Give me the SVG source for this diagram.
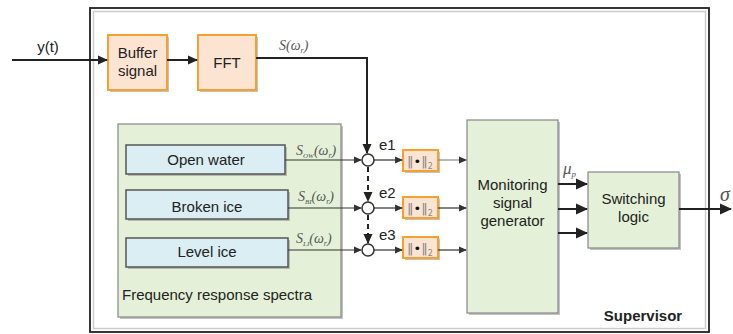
<svg xmlns="http://www.w3.org/2000/svg" width="733" height="334" viewBox="0 0 733 334">
<defs>
<marker id="ah" markerWidth="10" markerHeight="10" refX="9" refY="5" orient="auto" markerUnits="userSpaceOnUse"><path d="M0,0.5 L10,5 L0,9.5 Z" fill="#222"/></marker>
<marker id="ahs" markerWidth="8" markerHeight="8" refX="7" refY="4" orient="auto" markerUnits="userSpaceOnUse"><path d="M0,0.5 L8,4 L0,7.5 Z" fill="#333"/></marker>
<marker id="ahb" markerWidth="12" markerHeight="12" refX="11" refY="6" orient="auto" markerUnits="userSpaceOnUse"><path d="M0,0.5 L12,6 L0,11.5 Z" fill="#222"/></marker>
</defs>
<style>
.sh{fill:#9a9a9a;opacity:0.6}
.org{fill:#fce4d3;stroke:#f7a030;stroke-width:2}
.blu{fill:#daeef3;stroke:#555;stroke-width:1.5}
.grn{fill:#e4f1d8;stroke:#888;stroke-width:1.2}
.t{font-family:"Liberation Sans",Arial,sans-serif;font-size:15px;fill:#222}
.m{font-family:"Liberation Serif","Times New Roman",serif;font-style:italic;fill:#555}
.nm{font-family:"DejaVu Sans",sans-serif;font-size:13px;fill:#888}
.ln{stroke:#333;stroke-width:1.2;fill:none}
.lb{stroke:#222;stroke-width:2;fill:none}
</style>
<rect width="733" height="334" fill="#fff"/>
<g id="supervisor">
<rect x="90" y="8" width="619" height="324" fill="#fff" stroke="#222" stroke-width="1.8"/>
<rect x="93.5" y="11.5" width="612" height="317" fill="none" stroke="#ccc" stroke-width="1.5"/>
<text x="643" y="321" class="t" font-size="16" font-weight="bold" text-anchor="middle">Supervisor</text>
</g>
<g id="buffer">
<rect x="110" y="37" width="59" height="55" class="sh"/>
<rect x="108" y="35" width="59" height="55" class="org"/>
<text x="137.5" y="58" class="t" text-anchor="middle">Buffer</text>
<text x="137.5" y="76" class="t" text-anchor="middle">signal</text>
</g>
<g id="fft">
<rect x="200" y="37" width="58" height="55" class="sh"/>
<rect x="198" y="35" width="58" height="55" class="org"/>
<text x="227" y="68" class="t" text-anchor="middle">FFT</text>
</g>
<g id="spectra">
<rect x="120" y="126" width="223" height="193" class="sh"/>
<rect x="118" y="124" width="223" height="193" class="grn"/>
<text x="122" y="300" class="t" font-size="14.5">Frequency response spectra</text>
</g>
<g id="openwater">
<rect x="128" y="147" width="159" height="29" class="sh"/>
<rect x="126" y="145" width="159" height="29" class="blu"/>
<text x="206" y="165" class="t" text-anchor="middle">Open water</text>
</g>
<g id="brokenice">
<rect x="128" y="192" width="162" height="29" class="sh"/>
<rect x="126" y="190" width="162" height="29" class="blu"/>
<text x="207" y="212" class="t" text-anchor="middle">Broken ice</text>
</g>
<g id="levelice">
<rect x="128" y="240" width="162" height="29" class="sh"/>
<rect x="126" y="238" width="162" height="29" class="blu"/>
<text x="207" y="257" class="t" text-anchor="middle">Level ice</text>
</g>
<g id="sum1"><circle cx="368" cy="160" r="6" fill="#fff" stroke="#333" stroke-width="1.5"/></g>
<g id="sum2"><circle cx="368" cy="208" r="6" fill="#fff" stroke="#333" stroke-width="1.5"/></g>
<g id="sum3"><circle cx="368" cy="250" r="6" fill="#fff" stroke="#333" stroke-width="1.5"/></g>
<g id="norm1">
<rect x="405" y="152" width="35" height="21" class="sh"/>
<rect x="403" y="150" width="35" height="21" class="org"/>
<text x="420" y="166" class="nm" text-anchor="middle">‖<tspan fill="#111">•</tspan>‖<tspan font-size="8" dy="3">2</tspan></text>
</g>
<g id="norm2">
<rect x="405" y="199" width="35" height="21" class="sh"/>
<rect x="403" y="197" width="35" height="21" class="org"/>
<text x="420" y="213" class="nm" text-anchor="middle">‖<tspan fill="#111">•</tspan>‖<tspan font-size="8" dy="3">2</tspan></text>
</g>
<g id="norm3">
<rect x="405" y="239" width="35" height="21" class="sh"/>
<rect x="403" y="237" width="35" height="21" class="org"/>
<text x="420" y="253" class="nm" text-anchor="middle">‖<tspan fill="#111">•</tspan>‖<tspan font-size="8" dy="3">2</tspan></text>
</g>
<g id="monitor">
<rect x="469" y="122" width="91" height="193" class="sh"/>
<rect x="467" y="120" width="91" height="193" class="grn"/>
<text x="512.5" y="190" class="t" text-anchor="middle">Monitoring</text>
<text x="512.5" y="208" class="t" text-anchor="middle">signal</text>
<text x="512.5" y="226" class="t" text-anchor="middle">generator</text>
</g>
<g id="switching">
<rect x="590" y="174" width="91" height="76" class="sh"/>
<rect x="588" y="172" width="91" height="76" class="grn"/>
<text x="633.5" y="204" class="t" text-anchor="middle">Switching</text>
<text x="633.5" y="222" class="t" text-anchor="middle">logic</text>
</g>
<g id="connectors">
<line x1="12" y1="60" x2="107" y2="60" class="lb" marker-end="url(#ah)"/>
<line x1="167" y1="60" x2="197" y2="60" class="lb" marker-end="url(#ah)"/>
<polyline points="256,58 367,58 367,153" class="lb" marker-end="url(#ah)"/>
<line x1="285" y1="160" x2="361" y2="160" class="ln" marker-end="url(#ahs)"/>
<line x1="288" y1="208" x2="361" y2="208" class="ln" marker-end="url(#ahs)"/>
<line x1="288" y1="250" x2="361" y2="250" class="ln" marker-end="url(#ahs)"/>
<line x1="368" y1="167" x2="368" y2="201" stroke="#222" stroke-width="2" stroke-dasharray="5,4" marker-end="url(#ah)"/>
<line x1="368" y1="215" x2="368" y2="243" stroke="#222" stroke-width="2" stroke-dasharray="5,4" marker-end="url(#ah)"/>
<line x1="374" y1="160" x2="402" y2="160" class="ln" marker-end="url(#ahs)"/>
<line x1="374" y1="208" x2="402" y2="208" class="ln" marker-end="url(#ahs)"/>
<line x1="374" y1="250" x2="402" y2="250" class="ln" marker-end="url(#ahs)"/>
<line x1="438" y1="160" x2="466" y2="160" stroke="#888" stroke-width="1.2" marker-end="url(#ahs)"/>
<line x1="438" y1="208" x2="466" y2="208" class="ln" marker-end="url(#ahs)"/>
<line x1="438" y1="250" x2="466" y2="250" class="ln" marker-end="url(#ahs)"/>
<line x1="558" y1="184" x2="587" y2="184" class="lb" marker-end="url(#ahb)"/>
<line x1="558" y1="209" x2="587" y2="209" class="lb" marker-end="url(#ahb)"/>
<line x1="558" y1="233" x2="587" y2="233" class="lb" marker-end="url(#ahb)"/>
<line x1="679" y1="209" x2="731" y2="209" class="lb" marker-end="url(#ahb)"/>
</g>
<g id="labels">
<text x="48" y="52" class="t" text-anchor="middle">y(t)</text>
<text x="279" y="50" class="m" font-size="14">S(ω<tspan font-size="8" dy="3">r</tspan><tspan dy="-3">)</tspan></text>
<text x="296" y="155" class="m" font-size="14">S<tspan font-size="7" dy="3">OW</tspan><tspan dy="-3">(ω</tspan><tspan font-size="8" dy="3">r</tspan><tspan dy="-3">)</tspan></text>
<text x="298" y="201" class="m" font-size="14">S<tspan font-size="7" dy="3">BI</tspan><tspan dy="-3">(ω</tspan><tspan font-size="8" dy="3">r</tspan><tspan dy="-3">)</tspan></text>
<text x="296" y="243" class="m" font-size="14">S<tspan font-size="7" dy="3">LI</tspan><tspan dy="-3">(ω</tspan><tspan font-size="8" dy="3">r</tspan><tspan dy="-3">)</tspan></text>
<text x="379" y="150" class="t" font-size="15">e1</text>
<text x="379" y="198" class="t" font-size="15">e2</text>
<text x="379" y="240" class="t" font-size="15">e3</text>
<text x="563" y="174" class="m" font-size="17" fill="#333">μ<tspan font-size="9" dy="3">p</tspan></text>
<text x="720" y="201" class="m" font-size="20" fill="#222">σ</text>
</g>
</svg>
